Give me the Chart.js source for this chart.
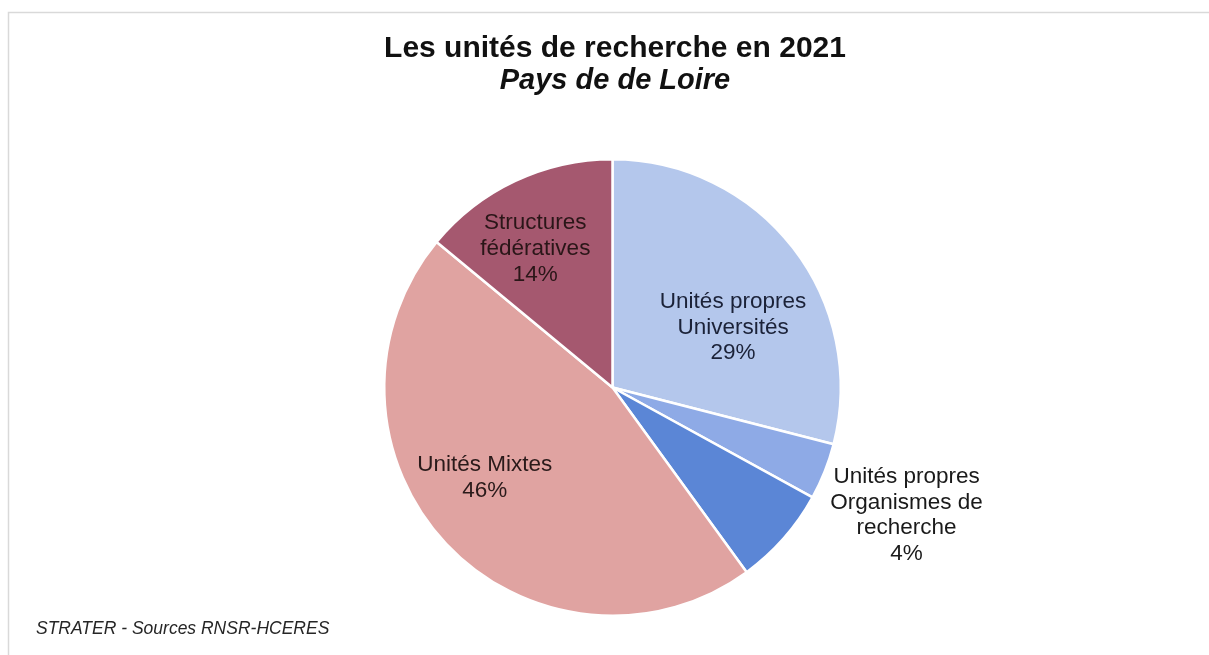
<!DOCTYPE html>
<html>
<head>
<meta charset="utf-8">
<script src="https://cdn.jsdelivr.net/npm/chart.js@4/dist/chart.umd.min.js"></script>
<style>
  html, body { margin: 0; padding: 0; background: #ffffff; }
  #wrap { width: 1209px; height: 655px; position: relative; }
</style>
</head>
<body>
<div id="wrap"><canvas id="c" width="1209" height="655"></canvas></div>
<script>
// ---- data ----
const categories = [
  "Unités propres Universités",
  "Unités propres Organismes de recherche",
  "Autres unités",
  "Unités Mixtes",
  "Structures fédératives"
];
const shares = [29, 4, 7, 46, 14];
const labelLines = [
  ["Unités propres", "Universités", "29%"],
  ["Unités propres", "Organismes de", "recherche", "4%"],
  [],
  ["Unités Mixtes", "46%"],
  ["Structures", "fédératives", "14%"]
];
const titleText = "Les unités de recherche en 2021";
const subtitleText = "Pays de de Loire";
const sourceText = "STRATER - Sources RNSR-HCERES";

// ---- styles ----
const sliceColors = ["#b4c7ec", "#8eaae6", "#5b86d6", "#e0a3a1", "#a5586f"];
const labelColors = ["#1b2238", "#1a1a1a", "#1a1a1a", "#2a1a1a", "#2a1618"];
// label placement: angle clockwise from 12 o'clock (deg), radius fraction
const labelPlace = [
  {a: 63.5, r: 0.59},
  {a: 113.5, r: 1.405},
  null,
  {a: 234.8, r: 0.685},
  {a: 330.9, r: 0.695}
];

const decor = {
  id: 'decor',
  beforeDraw(chart) {
    const ctx = chart.ctx;
    ctx.save();
    ctx.fillStyle = '#ffffff';
    ctx.fillRect(0, 0, chart.width, chart.height);
    ctx.strokeStyle = '#d9d9d9';
    ctx.lineWidth = 1.5;
    ctx.beginPath();
    ctx.moveTo(8.5, chart.height);
    ctx.lineTo(8.5, 12.5);
    ctx.lineTo(chart.width, 12.5);
    ctx.stroke();
    ctx.restore();
  },
  afterDraw(chart) {
    const ctx = chart.ctx;
    ctx.save();
    ctx.textAlign = 'center';
    ctx.textBaseline = 'alphabetic';
    ctx.fillStyle = '#111111';
    ctx.font = 'bold 30px "Liberation Sans", Arial, sans-serif';
    ctx.fillText(titleText, 615, 57);
    ctx.font = 'italic bold 29px "Liberation Sans", Arial, sans-serif';
    ctx.fillText(subtitleText, 615, 89);
    ctx.textAlign = 'left';
    ctx.fillStyle = '#262626';
    ctx.font = 'italic 17.5px "Liberation Sans", Arial, sans-serif';
    ctx.fillText(sourceText, 36, 634);

    const meta = chart.getDatasetMeta(0);
    ctx.textAlign = 'center';
    ctx.textBaseline = 'middle';
    ctx.font = '22.5px "Liberation Sans", Arial, sans-serif';
    meta.data.forEach((arc, i) => {
      const p = labelPlace[i];
      const lines = labelLines[i];
      if (!p || !lines.length) return;
      const R = arc.outerRadius;
      const th = p.a * Math.PI / 180;
      const cx = arc.x + Math.sin(th) * R * p.r;
      const cy = arc.y - Math.cos(th) * R * p.r;
      const lh = 25.8;
      const y0 = cy - (lines.length - 1) * lh / 2;
      ctx.fillStyle = labelColors[i];
      lines.forEach((t, k) => ctx.fillText(t, cx, y0 + k * lh));
    });
    ctx.restore();
  }
};

new Chart(document.getElementById('c'), {
  type: 'pie',
  data: {
    labels: categories,
    datasets: [{
      data: shares,
      backgroundColor: sliceColors,
      borderColor: '#ffffff',
      borderWidth: 2.5
    }]
  },
  options: {
    responsive: false,
    animation: false,
    rotation: 0,
    layout: { padding: { top: 158, bottom: 38, left: 16, right: 0 } },
    plugins: {
      legend: { display: false },
      tooltip: { enabled: false },
      title: { display: false }
    }
  },
  plugins: [decor]
});
</script>
</body>
</html>
